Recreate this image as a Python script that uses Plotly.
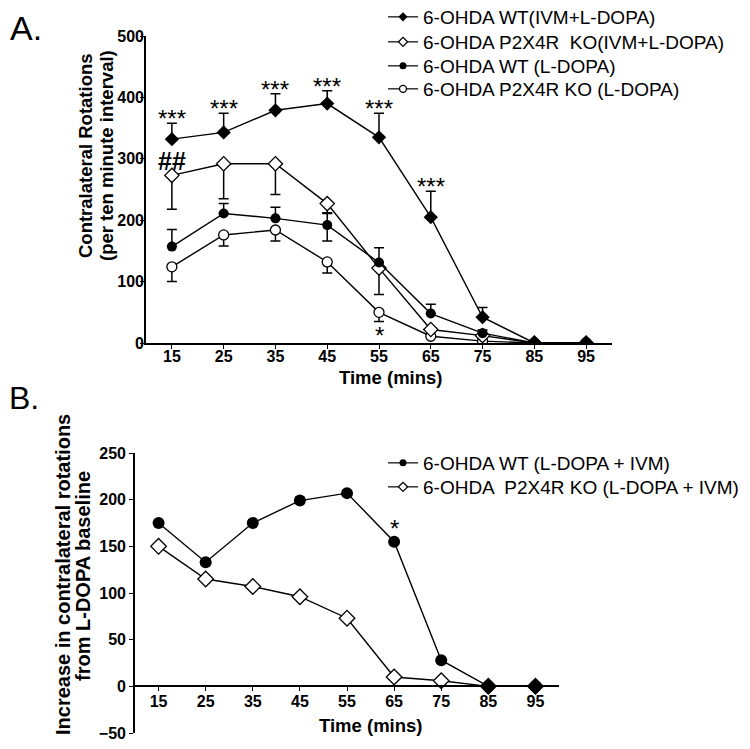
import plotly.graph_objects as go

# ---------------- Data ----------------
time_a = [15, 25, 35, 45, 55, 65, 75, 85, 95]
wt_ivm = [332, 343, 379, 390, 335, 205, 42, 0, 0]
wt_ivm_err = [26, 31, 27, 21, 39, 42, 16, 0, 0]
ko_ivm = [273, 292, 292, 227, 122, 22, 12, 0, 0]
ko_ivm_err = [55, 57, 50, 16, 43, 0, 0, 0, 0]
wt_ldopa = [157, 211, 203, 192, 131, 48, 16, 0, 0]
wt_ldopa_err_up = [28, 16, 18, 20, 24, 15, 5, 0, 0]
wt_ldopa_err_dn = [0, 0, 0, 26, 0, 0, 0, 0, 0]
ko_ldopa = [124, 176, 184, 132, 50, 11, 3, 0, 0]
ko_ldopa_err = [24, 18, 18, 18, 15, 0, 0, 0, 0]

time_b = [15, 25, 35, 45, 55, 65, 75, 85, 95]
wt_inc = [175, 133, 175, 199, 207, 155, 28, 0, 0]
ko_inc = [150, 115, 107, 96, 73, 10, 6, 0, 0]

names_a = ["6-OHDA WT(IVM+L-DOPA)", "6-OHDA P2X4R  KO(IVM+L-DOPA)",
           "6-OHDA WT (L-DOPA)", "6-OHDA P2X4R KO (L-DOPA)"]
names_b = ["6-OHDA WT (L-DOPA + IVM)", "6-OHDA  P2X4R KO (L-DOPA + IVM)"]

FONT = "Liberation Sans, Arial, sans-serif"
OFF = 8  # page body margin
W, H = 750 - 2 * OFF, 749 - 2 * OFF

def px_x(p):
    return (p - OFF) / W

def px_y(p):
    return 1 - (p - OFF) / H

fig = go.Figure()

line = dict(color="black", width=1.4)

def err(up, dn):
    return dict(type="data", symmetric=False, array=up, arrayminus=dn,
                color="black", thickness=1.5, width=5)

zeros = [0] * len(time_a)

m_fd = dict(symbol="diamond", size=11, color="black")
m_od = dict(symbol="diamond", size=11, color="white", line=dict(color="black", width=1.3))
m_fc = dict(symbol="circle", size=10, color="black")
m_oc = dict(symbol="circle", size=10, color="white", line=dict(color="black", width=1.3))

# Panel A traces (draw order chosen so filled circle lies on top)
fig.add_trace(go.Scatter(x=time_a, y=ko_ldopa, mode="lines+markers", line=line,
                         marker=m_oc, showlegend=False,
                         error_y=err(zeros, ko_ldopa_err), xaxis="x", yaxis="y"))
fig.add_trace(go.Scatter(x=time_a, y=ko_ivm, mode="lines+markers", line=line,
                         marker=m_od, showlegend=False,
                         error_y=err(zeros, ko_ivm_err), xaxis="x", yaxis="y"))
fig.add_trace(go.Scatter(x=time_a, y=wt_ivm, mode="lines+markers", line=line,
                         marker=m_fd, showlegend=False,
                         error_y=err(wt_ivm_err, zeros), xaxis="x", yaxis="y"))
fig.add_trace(go.Scatter(x=time_a, y=wt_ldopa, mode="lines+markers", line=line,
                         marker=m_fc, showlegend=False,
                         error_y=err(wt_ldopa_err_up, wt_ldopa_err_dn), xaxis="x", yaxis="y"))

# Panel B traces
fig.add_trace(go.Scatter(x=time_b, y=wt_inc, mode="lines+markers", line=line,
                         showlegend=False,
                         marker=dict(symbol="circle", size=12, color="black"),
                         xaxis="x2", yaxis="y2"))
ko_col = ["white"] * (len(time_b) - 2) + ["black", "black"]
fig.add_trace(go.Scatter(x=time_b, y=ko_inc, mode="lines+markers", line=line,
                         showlegend=False,
                         marker=dict(symbol="diamond", size=12, color=ko_col,
                                     line=dict(color="black", width=1.3)),
                         xaxis="x2", yaxis="y2"))

# Legend-only entries (small symbols like the reference), one legend per row
leg_line = dict(color="black", width=1.2)
def small(m, size=7):
    d = dict(m)
    d["size"] = size
    return d

legend_font = dict(family=FONT, size=19, color="black")
rows = [17, 42, 66, 89, 463, 487]
all_names = names_a + names_b
all_marks = [m_fd, m_od, m_fc, m_oc, m_fc, m_od]
legend_layout = {}
for k, (nm, mk, row) in enumerate(zip(all_names, all_marks, rows)):
    lid = "legend" if k == 0 else "legend%d" % (k + 1)
    ax = ("x", "y") if k < 4 else ("x2", "y2")
    fig.add_trace(go.Scatter(x=[None], y=[None], name=nm, mode="lines+markers",
                             line=leg_line, marker=small(mk), legend=lid,
                             xaxis=ax[0], yaxis=ax[1]))
    legend_layout[lid] = dict(x=px_x(383), y=px_y(row - 19), xanchor="left", yanchor="top",
                              font=legend_font, bgcolor="rgba(0,0,0,0)", itemwidth=30)

tickfont = dict(family=FONT, size=16, color="black", weight="bold")
titlefont = dict(family=FONT, size=18.5, color="black", weight="bold")
titlefont_b = dict(family=FONT, size=20, color="black", weight="bold")

# Domains (pixel positions converted to paper fractions)
xa_dom = [px_x(146), px_x(612)]
ya_dom = [px_y(343), px_y(36)]
xb_dom = [px_x(135), px_x(559)]
yb_dom = [px_y(733), px_y(453)]
yb_range = [-50, 250]
zero_pos = yb_dom[0] + (yb_dom[1] - yb_dom[0]) * (0 - yb_range[0]) / (yb_range[1] - yb_range[0])

axis_common = dict(showline=True, linecolor="black", linewidth=1.6, ticks="outside",
                   ticklen=4, tickcolor="black", tickwidth=1.3, showgrid=False,
                   zeroline=False, tickfont=tickfont, automargin=False,
                   ticklabeloverflow="allow")

fig.update_layout(
    width=W, height=H,
    margin=dict(l=0, r=0, t=0, b=0, autoexpand=False),
    paper_bgcolor="white", plot_bgcolor="white",
    xaxis=dict(domain=xa_dom, range=[10, 100], tickvals=time_a, anchor="y",
               ticklabelstandoff=-6, **axis_common),
    yaxis=dict(domain=ya_dom, range=[0, 500], tickvals=[0, 100, 200, 300, 400, 500],
               anchor="x", ticklabelstandoff=-7, **axis_common),
    xaxis2=dict(domain=xb_dom, range=[10, 100], tickvals=time_b, anchor="free",
                position=zero_pos, ticklabelstandoff=-3, **axis_common),
    yaxis2=dict(domain=yb_dom, range=yb_range, tickvals=[-50, 0, 50, 100, 150, 200, 250],
                anchor="x2", **axis_common),
    showlegend=True,
    **legend_layout,
)

def pa(text, x, y, font, angle=0, xanchor="center", yanchor="middle"):
    return dict(text=text, x=px_x(x), y=px_y(y), xref="paper", yref="paper",
                xanchor=xanchor, yanchor=yanchor, showarrow=False, textangle=angle,
                font=font, borderpad=0)

annots = []
annots.append(dict(text="A.", x=px_x(9), y=1.0, xref="paper", yref="paper",
                   xanchor="left", yanchor="top", showarrow=False, borderpad=0,
                   font=dict(family=FONT, size=34, color="black")))
annots.append(pa("B.", 8, 398, dict(family=FONT, size=32, color="black"),
                 xanchor="left"))
annots.append(pa("Contralateral Rotations", 85, 156, titlefont, angle=-90))
annots.append(pa("(per ten minute interval)", 106, 156, titlefont, angle=-90))
annots.append(pa("Increase in contralateral rotations", 63, 575, titlefont_b, angle=-90))
annots.append(pa("from L-DOPA baseline", 83, 576, titlefont_b, angle=-90))
annots.append(pa("Time (mins)", 390, 377, titlefont))
annots.append(pa("Time (mins)", 370, 725, titlefont))

star_font = dict(family=FONT, size=24, color="black")
for i in range(6):
    annots.append(dict(text="***", x=time_a[i], y=wt_ivm[i] + wt_ivm_err[i],
                       xref="x", yref="y", xanchor="center", yanchor="bottom",
                       showarrow=False, yshift=-11, font=star_font))
annots.append(dict(text="##", x=time_a[0], y=ko_ivm[0], xref="x", yref="y",
                   xanchor="center", yanchor="bottom", showarrow=False, yshift=-2,
                   font=dict(family=FONT, size=25, color="black", weight="bold")))
annots.append(dict(text="*", x=time_a[4], y=ko_ldopa[4] - ko_ldopa_err[4], xref="x", yref="y",
                   xanchor="center", yanchor="top", showarrow=False, yshift=2,
                   font=star_font))
annots.append(dict(text="*", x=time_b[5], y=wt_inc[5], xref="x2", yref="y2",
                   xanchor="center", yanchor="bottom", showarrow=False, yshift=-2,
                   font=star_font))
fig.update_layout(annotations=annots)

fig.write_html("out.html")
